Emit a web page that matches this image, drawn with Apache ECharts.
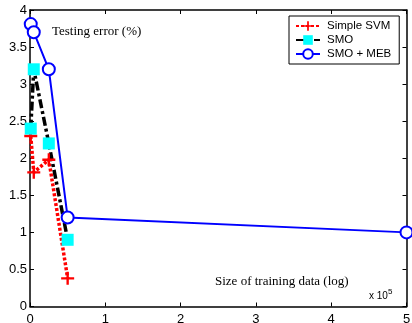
<!DOCTYPE html>
<html>
<head>
<meta charset="utf-8">
<script src="https://cdn.jsdelivr.net/npm/echarts@6/dist/echarts.min.js"></script>
<style>
  html, body { margin: 0; padding: 0; background: #fff; }
  #chart { width: 412px; height: 323px; }
</style>
</head>
<body>
<div id="chart"></div>
<script>
// training size, in units of 10^5
const trainSize = [0.01, 0.05, 0.25, 0.5, 5]
const simpleSvm = [2.3, 1.81, 1.98, 0.38]
const smo = [2.4, 3.2, 2.2, 0.9]
const smoMeb = [3.81, 3.7, 3.2, 1.2, 1.0]
const xTicks = [0, 1, 2, 3, 4, 5]
const yTicks = [0, 0.5, 1, 1.5, 2, 2.5, 3, 3.5, 4]

const pairs = (ys) => ys.map((y, i) => [trainSize[i], y])

const plusPath = 'path://M4.5,0h2v4.5h4.5v2h-4.5v4.5h-2v-4.5h-4.5v-2h4.5z'

const axisFont = { fontFamily: 'Liberation Sans, Arial', fontSize: 13, color: '#000' }

const chart = echarts.init(document.getElementById('chart'), null, { renderer: 'canvas' })

const frameAxis = (extra) => ({
  axisLine: { show: true, onZero: false, lineStyle: { color: '#000', width: 1.5 } },
  axisTick: { show: true, inside: true, length: 4, lineStyle: { color: '#000', width: 1 } },
  splitLine: { show: false },
  ...extra
})

chart.setOption({
  animation: false,
  grid: { left: 30, right: 5.5, top: 10, bottom: 16.5, outerBoundsMode: 'none', containLabel: false },
  xAxis: [
    frameAxis({
      type: 'value', min: 0, max: 5, interval: 1,
      axisLabel: { ...axisFont, margin: 6, formatter: (v) => xTicks.includes(v) ? String(v) : '' }
    }),
    frameAxis({
      type: 'value', min: 0, max: 5, interval: 1, position: 'top',
      axisLabel: { show: false }
    })
  ],
  yAxis: [
    frameAxis({
      type: 'value', min: 0, max: 4, interval: 0.5,
      axisLabel: { ...axisFont, margin: 3, formatter: (v) => yTicks.includes(v) ? String(v) : '' }
    }),
    frameAxis({
      type: 'value', min: 0, max: 4, interval: 0.5, position: 'right',
      axisLabel: { show: false }
    })
  ],
  legend: {
    orient: 'vertical',
    left: 289,
    top: 16,
    width: 111,
    padding: [4, 8, 4, 6],
    itemGap: 2,
    itemWidth: 24,
    itemHeight: 12,
    borderColor: '#000',
    borderWidth: 1,
    backgroundColor: '#fff',
    textStyle: { fontFamily: 'Liberation Sans, Arial', fontSize: 11.5, color: '#000', padding: [0, 0, 0, 2] },
    data: ['Simple SVM', 'SMO', 'SMO + MEB']
  },
  graphic: [
    {
      type: 'text', left: 52, top: 25,
      style: { text: 'Testing error (%)', font: '13px "Liberation Serif", "Times New Roman"', fill: '#000' }
    },
    {
      type: 'text', left: 215, top: 275,
      style: { text: 'Size of training data (log)', font: '13px "Liberation Serif", "Times New Roman"', fill: '#000' }
    },
    {
      type: 'text', left: 369, top: 288,
      style: {
        text: 'x 10{s|5}',
        font: '10px "Liberation Sans", Arial',
        fill: '#000',
        rich: { s: { fontSize: 8, fontFamily: 'Liberation Sans, Arial', verticalAlign: 'top', padding: [0, 0, 8, 0] } }
      }
    }
  ],
  series: [
    {
      name: 'Simple SVM',
      type: 'line',
      data: pairs(simpleSvm),
      symbol: plusPath,
      symbolSize: 13,
      itemStyle: { color: '#ff0000' },
      lineStyle: { color: '#ff0000', width: 3.5, type: [3, 2] }
    },
    {
      name: 'SMO',
      type: 'line',
      data: pairs(smo),
      symbol: 'rect',
      symbolSize: 12,
      itemStyle: { color: '#00ffff', borderWidth: 0 },
      lineStyle: { color: '#000', width: 3.5, type: [9, 3, 3, 3] }
    },
    {
      name: 'SMO + MEB',
      type: 'line',
      data: pairs(smoMeb),
      symbol: 'emptyCircle',
      symbolSize: 12,
      itemStyle: { color: '#0000ff', borderColor: '#0000ff', borderWidth: 2 },
      lineStyle: { color: '#0000ff', width: 2 }
    }
  ]
})
</script>
</body>
</html>
